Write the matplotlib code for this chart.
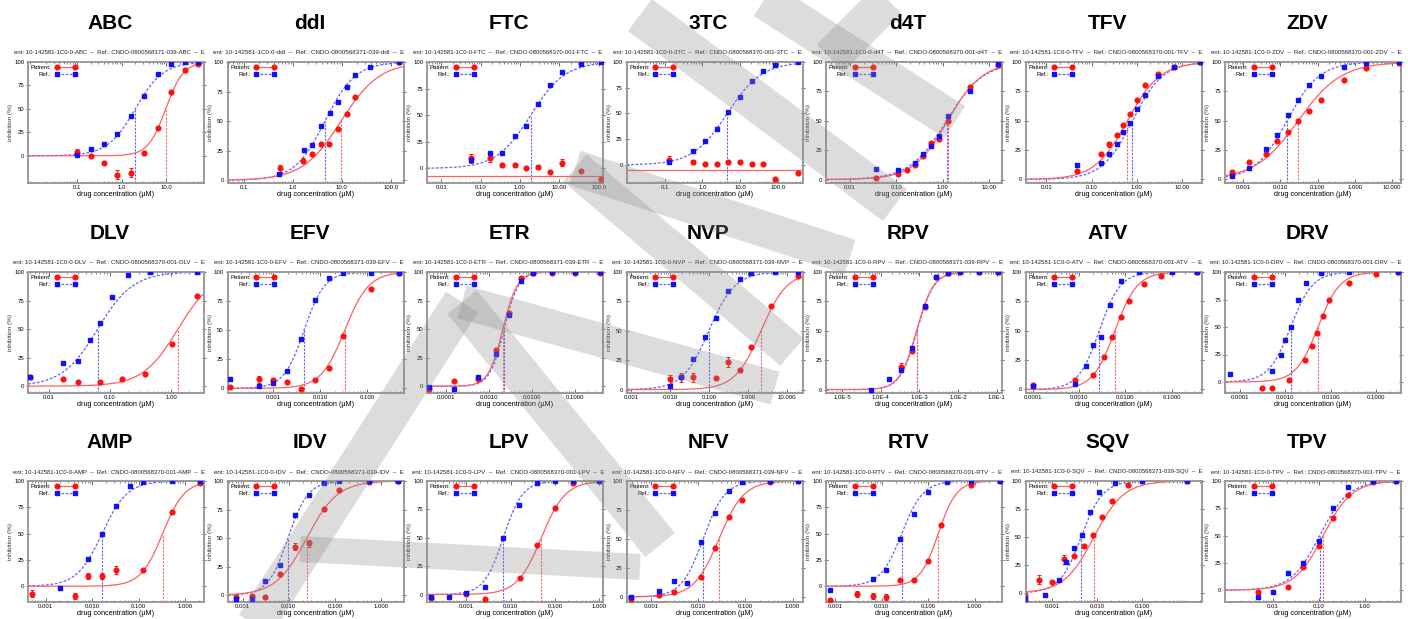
import numpy as np
import matplotlib
matplotlib.use('Agg')
import matplotlib.pyplot as plt
from matplotlib.lines import Line2D
from matplotlib.patches import Polygon

plt.rcParams['font.family'] = ['Liberation Sans', 'DejaVu Sans']

# ---- data ----------------------------------------------------------------
drugs = ['ABC', 'ddI', 'FTC', '3TC', 'd4T', 'TFV', 'ZDV',
         'DLV', 'EFV', 'ETR', 'NVP', 'RPV', 'ATV', 'DRV',
         'AMP', 'IDV', 'LPV', 'NFV', 'RTV', 'SQV', 'TPV']

ref_ids = ['0800568371-039', '0800568371-039', '0800568370-001', '0800568370-001',
           '0800568370-001', '0800568370-001', '0800568370-001',
           '0800568370-001', '0800568371-039', '0800568371-039', '0800568371-039',
           '0800568371-039', '0800568370-001', '0800568370-001',
           '0800568370-001', '0800568371-039', '0800568370-001', '0800568371-039',
           '0800568370-001', '0800568371-039', '0800568370-001']

# reference virus (blue squares)
ref_conc = [
    [0.1, 0.2, 0.4, 0.8, 1.6, 3.2, 6.4, 12.8, 25.6, 51.2],
    [0.52, 1.66, 2.43, 3.7, 5.65, 8.26, 12.6, 18.8, 37.8, 149],
    [0.058, 0.176, 0.36, 0.73, 1.43, 2.93, 5.9, 11.8, 35, 112],
    [0.13, 0.57, 1.19, 2.43, 4.9, 9.8, 21, 42, 86, 350],
    [0.037, 0.11, 0.25, 0.38, 0.55, 0.84, 1.27, 3.83, 15.2],
    [0.047, 0.16, 0.24, 0.36, 0.5, 0.7, 1.0, 1.5, 3, 6.5, 25],
    [0.0005, 0.0014, 0.004, 0.008, 0.016, 0.03, 0.06, 0.12, 0.5, 2, 15],
    [0.005, 0.017, 0.03, 0.048, 0.07, 0.11, 0.2, 0.45, 2.7],
    [0.00012, 0.00049, 0.00098, 0.00195, 0.0039, 0.0078, 0.0156, 0.031, 0.117, 0.47],
    [4.0e-5, 1.5e-4, 5.3e-4, 0.00146, 0.0028, 0.0053, 0.0102, 0.029, 0.1, 0.37],
    [0.01, 0.0195, 0.039, 0.078, 0.155, 0.32, 0.64, 1.25, 5.1, 20],
    [5.5e-5, 1.66e-4, 3.4e-4, 6.6e-4, 0.00138, 0.0027, 0.0054, 0.011, 0.034, 0.105],
    [0.0001, 0.0008, 0.0014, 0.002, 0.003, 0.0045, 0.008, 0.02, 0.1, 0.35],
    [0.00006, 0.0005, 0.0008, 0.001, 0.0013, 0.0019, 0.0028, 0.006, 0.025, 0.3],
    [0.002, 0.0082, 0.0164, 0.0327, 0.066, 0.127, 0.52, 2.1],
    [0.0007, 0.00158, 0.0031, 0.0065, 0.0138, 0.028, 0.058, 0.126, 0.56, 2.3],
    [0.00016, 0.00041, 0.001, 0.0026, 0.0066, 0.0157, 0.0397, 0.1, 0.25, 1.0],
    [0.00038, 0.00148, 0.003, 0.0057, 0.0115, 0.0225, 0.045, 0.086, 0.34, 1.29],
    [0.00078, 0.0064, 0.0123, 0.025, 0.049, 0.1, 0.26, 0.83, 3.5],
    [0.00025, 0.0007, 0.0014, 0.002, 0.003, 0.0045, 0.007, 0.011, 0.025, 0.1, 1.0],
    [0.0048, 0.01, 0.021, 0.045, 0.1, 0.206, 0.44, 1.5, 4.9],
]
ref_inhib = [
    [1, 7, 12.5, 23.5, 42, 64, 87, 98, 100, 100],
    [5.7, 25.7, 30, 45.7, 57, 66.6, 79, 89, 95.7, 100],
    [7.9, 14.3, 14.3, 30, 39.7, 61, 78.7, 91, 98.4, 100],
    [3, 14, 23, 34.6, 51, 65.7, 82, 91, 97.4, 100],
    [9.1, 8, 14.3, 22, 28.6, 37, 53.7, 75, 98],
    [12, 14, 22, 30, 40, 48, 60, 72, 88, 96, 100],
    [3, 10, 26, 38, 55, 68, 80, 88, 96, 99, 100],
    [8, 20, 22, 40, 55, 78, 97, 100, 100],
    [7.7, 2, 4.3, 14.9, 42, 76, 95, 99, 99, 99],
    [-0.9, -2.3, 8, 28, 62, 92.5, 99, 100, 100, 100],
    [3.4, 10.9, 25.7, 44.3, 60.6, 84, 94, 99, 100, 100],
    [0, 8.9, 16.6, 35.3, 71, 95.7, 99, 100, 100, 100],
    [3, 5, 20, 38, 45, 72, 92, 100, 100, 100],
    [7, 10, 25, 38, 50, 75, 90, 99, 100, 100],
    [-1.6, 26.2, 49.5, 76.6, 95.2, 99, 99.6, 100],
    [-2.9, -2.9, 12.7, 26.2, 70.5, 88, 98.5, 99.7, 99.7, 99.7],
    [-2.1, -2.1, 1.5, 7, 50, 78.8, 97.9, 100, 100, 100],
    [0, 5.3, 13.8, 12.3, 47.7, 72.2, 91.2, 98.8, 100, 100],
    [-3.8, 7.2, 15.2, 45.2, 68.5, 90, 98.9, 100, 100],
    [-5, -2, 12, 28, 40, 52, 72, 90, 98, 100, 100],
    [-6.2, -1.5, 15.4, 25.3, 45.4, 75.6, 94.8, 100, 100],
]

# patient virus (red circles)
pat_conc = [
    [0.1, 0.2, 0.4, 0.8, 1.6, 3.2, 6.4, 12.8, 25.6, 51.2],
    [0.55, 1.6, 2.43, 3.7, 5.5, 8.26, 12.6, 18.8, 149],
    [0.058, 0.176, 0.36, 0.73, 1.43, 2.93, 5.9, 11.8, 35, 112],
    [0.13, 0.57, 1.19, 2.43, 4.9, 9.8, 21, 42, 86, 350],
    [0.037, 0.11, 0.167, 0.25, 0.38, 0.55, 0.84, 1.27, 3.83, 15.2],
    [0.047, 0.16, 0.24, 0.36, 0.5, 0.7, 1.0, 1.5, 3, 6.5, 25],
    [0.0005, 0.0014, 0.004, 0.008, 0.016, 0.03, 0.06, 0.12, 0.5, 2, 15],
    [0.005, 0.017, 0.03, 0.07, 0.16, 0.38, 1.04, 2.7],
    [0.00012, 0.00049, 0.00098, 0.00195, 0.0039, 0.0078, 0.0156, 0.031, 0.117, 0.47],
    [4.0e-5, 1.5e-4, 5.3e-4, 0.00146, 0.0028, 0.0053, 0.0102, 0.029, 0.1, 0.37],
    [0.0098, 0.0195, 0.04, 0.155, 0.32, 0.64, 1.25, 4.0, 20],
    [3.4e-4, 6.6e-4, 0.00138, 0.0027, 0.0054, 0.011, 0.034, 0.105],
    [0.0001, 0.0008, 0.002, 0.0035, 0.005, 0.008, 0.012, 0.025, 0.06, 0.35],
    [0.0003, 0.0005, 0.0012, 0.0027, 0.0038, 0.005, 0.0068, 0.009, 0.025, 0.1, 0.3],
    [0.00052, 0.0042, 0.0082, 0.0164, 0.0327, 0.127, 0.52, 2.1],
    [0.0007, 0.00158, 0.0031, 0.0065, 0.0138, 0.028, 0.058, 0.126, 0.56, 2.3],
    [0.00016, 0.001, 0.0026, 0.016, 0.04, 0.1, 0.25, 1.0],
    [0.00038, 0.00148, 0.003, 0.0115, 0.0225, 0.045, 0.086, 0.34, 1.29],
    [0.00078, 0.003, 0.0064, 0.0123, 0.025, 0.049, 0.1, 0.19, 0.83, 3.5],
    [0.00025, 0.0005, 0.001, 0.0018, 0.003, 0.005, 0.008, 0.013, 0.022, 0.05, 1.0],
    [0.0048, 0.021, 0.045, 0.1, 0.206, 0.44, 1.5, 4.9],
]
pat_inhib = [
    [4, 0, -8, -20, -18, 2.5, 30, 67.5, 92, 98],
    [10, 16.6, 22, 30.9, 30.9, 43.7, 55.7, 70.6, 100],
    [9.5, 10, 3.2, 3.2, 0, 1, -3.2, 5.4, -2.2, -10],
    [5.2, 3, 1.3, 1.3, 2.6, 3.3, 1.3, 1.3, -13.4, -7.5],
    [1.4, 4.6, 8, 12, 20, 30.9, 34.9, 49.7, 78.6, 97.7],
    [7, 22, 30, 38, 46, 56, 68, 80, 90, 96, 100],
    [6, 15, 22, 33, 40, 50, 58, 68, 85, 95, 99],
    [8, 6, 4, 4, 6, 11, 37, 79],
    [0.9, 8, 6.9, 5.7, -0.6, 7, 17.7, 45, 85, 99],
    [-2.3, 4.4, 6.5, 32, 64, 94.8, 99, 99, 99, 99],
    [8.6, 10.5, 10.5, 10, 23.4, 16.6, 35.8, 71, 97],
    [19.5, 32.5, 70, 96, 99, 100, 100, 100],
    [4, 8, 12, 28, 45, 62, 75, 90, 97, 100],
    [-5, -5, 2, 20, 33, 45, 60, 75, 90, 98, 100],
    [-7, -9.6, 9.6, 9.6, 15.3, 15.3, 70.3, 98.4],
    [-1.5, -0.6, -1.5, 18.2, 42.3, 45.6, 75.6, 91.8, 99, 99.7],
    [-2.7, 0.5, -4, 14.5, 44, 75.8, 97.9, 100],
    [-1.8, 1.5, 4.4, 17.5, 42.3, 68.6, 83.3, 98.8, 100],
    [-13, -7.5, -9.5, -10.5, 5.8, 5.8, 24, 58, 96, 100],
    [-3, 12, 10, 30, 33, 42, 52, 68, 82, 96, 100],
    [-1.5, 3.1, 21.6, 40.7, 66.4, 87, 98.8, 100],
]
pat_err = [
    [3, 0, 0, 5, 5, 0, 0, 0, 0, 0],
    [3, 2, 0, 0, 0, 0, 0, 0, 0],
    [4, 4, 2, 1.5, 0, 2, 0, 3, 0, 0],
    [4, 2, 1, 1, 2, 2, 1, 1, 0, 0],
    [0, 0, 0, 0, 0, 2, 0, 0, 0, 0],
    [0, 0, 2, 0, 0, 0, 0, 0, 0, 0, 0],
    [0, 0, 0, 0, 0, 0, 0, 0, 0, 0, 0],
    [2, 0, 0, 0, 0, 0, 0, 0],
    [0, 3, 2, 0, 0, 0, 0, 0, 0, 0],
    [0, 0, 0, 0, 0, 0, 0, 0, 0, 0],
    [4, 4, 4, 0, 4, 0, 0, 0, 0],
    [3, 0, 0, 0, 0, 0, 0, 0],
    [0, 0, 0, 0, 0, 0, 0, 0, 0, 0],
    [0, 0, 0, 0, 0, 0, 0, 0, 0, 0, 0],
    [3, 3, 3, 3, 4, 0, 0, 0],
    [0, 0, 0, 0, 3, 3, 0, 0, 0, 0],
    [0, 0, 0, 0, 0, 0, 0, 0],
    [0, 0, 0, 0, 0, 0, 0, 0, 0],
    [0, 3, 3, 3, 0, 0, 0, 0, 0, 0],
    [0, 4, 0, 4, 0, 0, 0, 0, 0, 0, 0],
    [0, 0, 0, 0, 0, 0, 0, 0],
]

# fitted curve parameters (IC50 in µM, Hill slope); None = no fit, flat line
ref_ic50 = [2.0, 4.5, 1.88, 4.6, 1.2, 0.8, 0.015, 0.063, 0.0045, 0.0022, 0.1,
            0.00087, 0.0027, 0.0013, 0.0164, 0.0096, 0.0068, 0.0127, 0.027, 0.0044, 0.105]
ref_hill = [1.4, 1.4, 1.0, 0.95, 1.1, 1.3, 1.0, 1.5, 2.0, 2.6, 1.3,
            2.0, 1.9, 1.8, 1.6, 2.0, 2.0, 1.9, 1.9, 1.8, 1.4]
pat_ic50 = [9.6, 9.6, None, None, 1.27, 0.62, 0.03, 1.3, 0.033, 0.00205, 2.2,
            0.00085, 0.0059, 0.0052, 0.33, 0.0245, 0.049, 0.0275, 0.165, 0.0085, 0.125]
pat_hill = [2.2, 1.1, None, None, 1.17, 1.2, 0.75, 1.5, 1.7, 2.6, 1.3,
            2.0, 1.8, 1.8, 1.85, 1.3, 1.6, 1.65, 2.2, 1.3, 1.4]
pat_flat = [None, None, -7, -5.2, None, None, None, None, None, None, None,
            None, None, None, None, None, None, None, None, None, None]

# axis ranges (log10 of µM) and lower inhibition limit
x_lo = [-2.1, -1.34, -2.36, -2.01, -2.51, -2.46, -3.49,
        -2.34, -3.98, -4.45, -3.12, -5.41, -4.17, -4.33,
        -3.38, -3.33, -3.886, -3.52, -3.2, -3.6, -3.04]
x_hi = [1.84, 2.26, 2.11, 2.66, 1.27, 1.43, 1.24,
        0.54, -0.23, -0.36, 1.41, -0.865, -0.35, -0.46,
        0.41, 0.49, 0.08, 0.21, 0.59, 0.33, 0.79]
y_low = [-29, -2.3, -13.7, -17.5, -2.9, -3, -3,
         -6, -4, -5.9, -2.9, -2.9, -3, -10,
         -15, -5.9, -6.6, -4.4, -15, -8, -10.8]

xtick_labels = [
    ['0.1', '1.0', '10.0'],
    ['0.1', '1.0', '10.0', '100.0'],
    ['0.01', '0.10', '1.00', '10.00', '100.0'],
    ['0.1', '1.0', '10.0', '100.0'],
    ['0.01', '0.10', '1.00', '10.00'],
    ['0.01', '0.10', '1.00', '10.00'],
    ['0.001', '0.010', '0.100', '1.000', '10.000'],
    ['0.01', '0.10', '1.00'],
    ['0.001', '0.010', '0.100'],
    ['0.0001', '0.0010', '0.0100', '0.1000'],
    ['0.001', '0.010', '0.100', '1.000', '10.000'],
    ['1.0E-5', '1.0E-4', '1.0E-3', '1.0E-2', '1.0E-1'],
    ['0.0001', '0.0010', '0.0100', '0.1000'],
    ['0.0001', '0.0010', '0.0100', '0.1000'],
    ['0.001', '0.010', '0.100', '1.000'],
    ['0.001', '0.010', '0.100', '1.000'],
    ['0.001', '0.010', '0.100', '1.000'],
    ['0.001', '0.010', '0.100', '1.000'],
    ['0.001', '0.010', '0.100', '1.000'],
    ['0.001', '0.010', '0.100'],
    ['0.01', '0.10', '1.00'],
]

# grey watermark strokes: (x0, y0, x1, y1, width) in pixels from top-left
watermark = [
    (764, 0, 955, 122, 38),
    (888, 0, 830, 58, 38),
    (640, 15, 895, 205, 40),
    (575, 168, 850, 257, 36),
    (575, 168, 792, 352, 36),
    (462, 302, 775, 388, 34),
    (462, 302, 660, 545, 38),
    (462, 302, 255, 625, 38),
    (300, 549, 640, 567, 26),
]

# ---- figure ---------------------------------------------------------------
W, H = 1408, 619
fig = plt.figure(figsize=(W / 100, H / 100), dpi=100)
renderer = fig.canvas.get_renderer()

RED, BLUE = '#ff1010', '#1010ff'
RED_LINE, BLUE_LINE = '#ff6060', '#6060ff'
col_left, col_pitch = 28, 199.5
ax_w, ax_h = 176, 121
row_top = [62, 272, 481]

for i, drug in enumerate(drugs):
    r, c = divmod(i, 7)
    left = col_left + col_pitch * c
    top = row_top[r]
    ax = fig.add_axes([left / W, 1 - (top + ax_h) / H, ax_w / W, ax_h / H])
    ax.set_xscale('log')
    ax.set_xlim(10 ** x_lo[i], 10 ** x_hi[i])
    ax.set_ylim(y_low[i], 100)

    xs = np.logspace(x_lo[i], x_hi[i], 300)

    # reference fit
    ax.plot(xs, 100 / (1 + (ref_ic50[i] / xs) ** ref_hill[i]), color=BLUE_LINE,
            lw=0.9, ls=(0, (2.2, 1.4)), zorder=2)
    ax.plot([ref_ic50[i], ref_ic50[i]], [y_low[i], 50], color=BLUE_LINE,
            lw=0.8, ls=(0, (2, 1.2)), zorder=2)

    # patient fit
    if pat_flat[i] is not None:
        ax.axhline(pat_flat[i], color=RED_LINE, lw=0.9, zorder=2)
    else:
        ax.plot(xs, 100 / (1 + (pat_ic50[i] / xs) ** pat_hill[i]), color=RED_LINE,
                lw=0.9, zorder=2)
        ax.plot([pat_ic50[i], pat_ic50[i]], [y_low[i], 50], color=RED_LINE,
                lw=0.8, ls=(0, (2, 1.2)), zorder=2)

    ax.plot(ref_conc[i], ref_inhib[i], ls='none', marker='s', ms=3.2,
            color=BLUE, mec=BLUE, zorder=4)
    ax.errorbar(pat_conc[i], pat_inhib[i], yerr=pat_err[i], fmt='o', ms=3.4,
                color=RED, ecolor=RED, elinewidth=0.7, capsize=1.3,
                capthick=0.7, zorder=3)

    # axes styling
    for s in ax.spines.values():
        s.set_color('#9a9a9a')
        s.set_linewidth(1.4)
    ax.set_yticks([0, 25, 50, 75, 100])
    ax.set_yticklabels(['0', '25', '50', '75', '100'])
    ax.set_xticks([float(t) for t in xtick_labels[i]])
    ax.set_xticklabels(xtick_labels[i])
    ax.tick_params(axis='y', which='both', left=True, right=True, direction='inout',
                   length=3.5, width=0.6, labelsize=4.3, pad=1, color='#555555')
    ax.tick_params(axis='x', which='major', top=True, bottom=True, direction='in',
                   length=3, width=0.6, labelsize=4.3, pad=1.5, color='#555555')
    ax.tick_params(axis='x', which='minor', top=True, bottom=True, direction='in',
                   length=1.6, width=0.5, color='#555555')
    ax.set_xlabel('drug concentration (\u00b5M)', fontsize=5.2, labelpad=0.5)
    ax.set_ylabel('inhibition (%)', fontsize=4.6, labelpad=0.5, color='#333333')

    handles = [Line2D([], [], color=RED_LINE, lw=0.9, marker='o', ms=3.4,
                      mfc=RED, mec=RED),
               Line2D([], [], color=BLUE_LINE, lw=0.9, ls=(0, (2, 1.3)), marker='s',
                      ms=3.2, mfc=BLUE, mec=BLUE)]
    ax.legend(handles, ['Patient:', 'Ref.:'], loc='upper left', frameon=False,
              markerfirst=False, numpoints=2, fontsize=4.3, handlelength=3.6,
              handletextpad=0.6, labelspacing=0.35, borderaxespad=0.25,
              borderpad=0.2)

    # drug title
    cx = left + ax_w / 2
    fig.text((cx - 6) / W, 1 - (top - 38.5) / H, drug, ha='center', va='center',
             fontsize=15, fontweight='bold')

    # run caption, sized to fill the cell width as in the report
    cap = fig.text((cx - 7) / W, 1 - (top - 9) / H,
                   f'ent: 10-142581-1C0-0-{drug}  \u2013  Ref.: CNDO-{ref_ids[i]}-{drug}  \u2013  E',
                   ha='center', va='center', fontsize=4.5, color='#222222')
    wpx = cap.get_window_extent(renderer).width
    cap.set_fontsize(4.5 * 192 / wpx)

# watermark on top of everything
for x0, y0, x1, y1, wdt in watermark:
    dx, dy = x1 - x0, y1 - y0
    n = np.hypot(dx, dy)
    ox, oy = -dy / n * wdt / 2, dx / n * wdt / 2
    pts = [(x0 + ox, y0 + oy), (x1 + ox, y1 + oy), (x1 - ox, y1 - oy), (x0 - ox, y0 - oy)]
    pts = [(px / W, 1 - py / H) for px, py in pts]
    fig.add_artist(Polygon(pts, closed=True, transform=fig.transFigure,
                           facecolor='#8c8c8c', edgecolor='none', alpha=0.3, zorder=20))

fig.savefig('out.png', dpi=100)
